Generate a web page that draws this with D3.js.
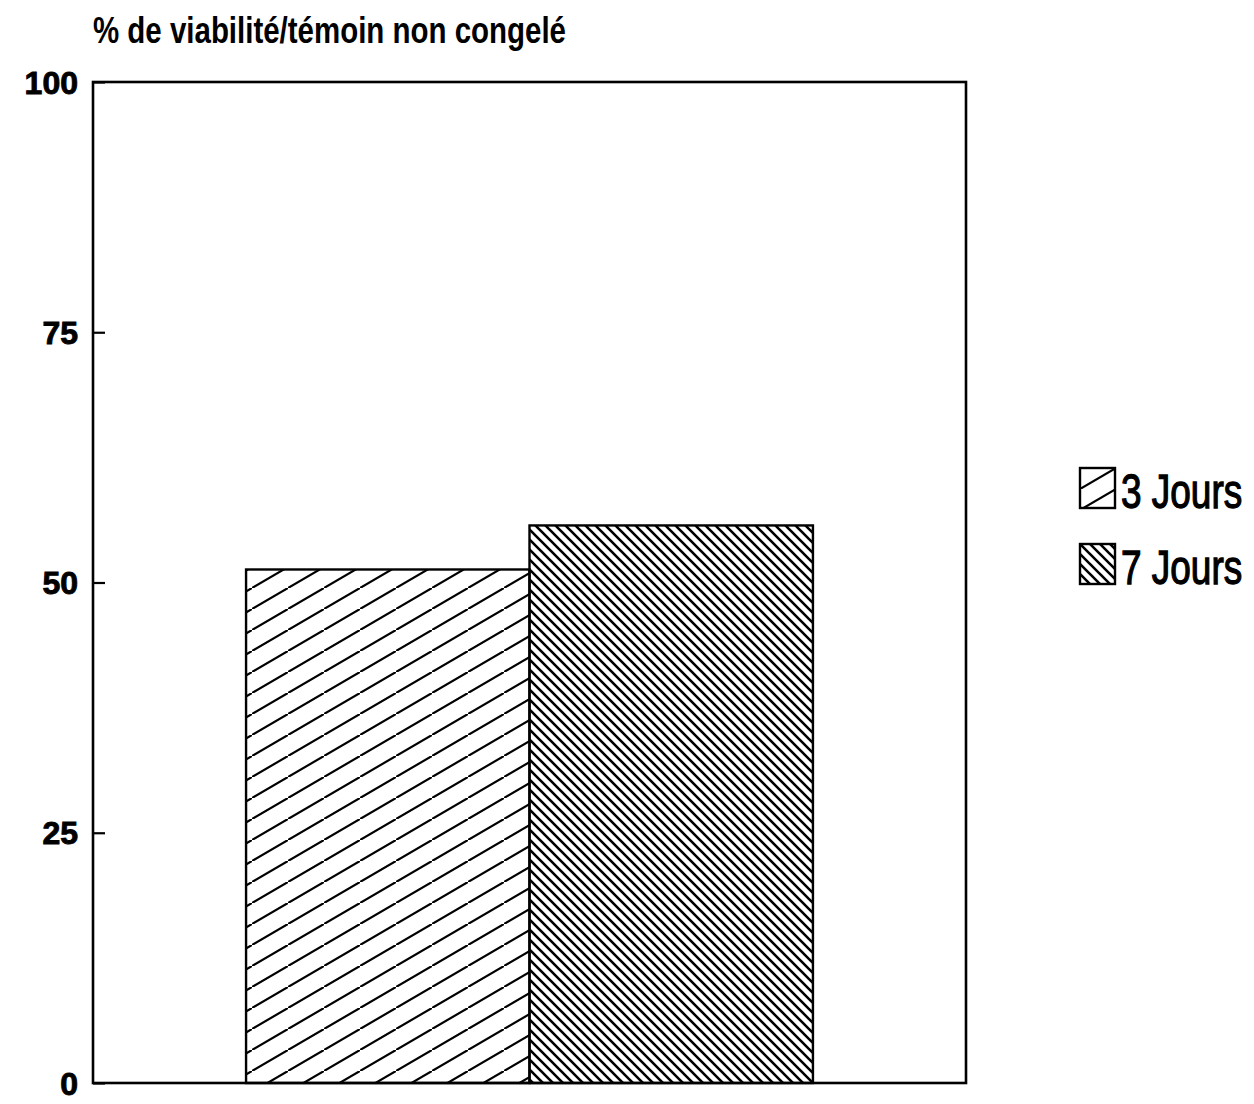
<!DOCTYPE html>
<html>
<head>
<meta charset="utf-8">
<script src="https://cdn.jsdelivr.net/npm/d3@7"></script>
<style>
  html, body { margin: 0; padding: 0; background: #fff; }
  svg { display: block; }
</style>
</head>
<body>
<svg id="chart" width="1254" height="1104"></svg>
<script>
// ---- data ----
const groups = [""];
const seriesNames = ["3 Jours", "7 Jours"];
const seriesValues = [51.3, 55.7];
const yTicks = [0, 25, 50, 75, 100];
const titleText = "% de viabilité/témoin non congelé";

// ---- layout ----
const svg = d3.select("#chart");
const plot = { left: 93, right: 966, top: 82, bottom: 1083 };

const y = d3.scaleLinear().domain([0, 100]).range([plot.bottom, plot.top]);
const x0 = d3.scaleBand().domain(groups).range([plot.left, plot.right])
  .paddingInner(0).paddingOuter(0.27);
const x1 = d3.scaleBand().domain(seriesNames).range([0, x0.bandwidth()]).padding(0);

// ---- patterns ----
const defs = svg.append("defs");
const p3 = defs.append("pattern").attr("id", "hatch3")
  .attr("patternUnits", "userSpaceOnUse").attr("width", 36).attr("height", 21);
p3.append("path")
  .attr("d", "M0,21 L36,0 M-36,42 L0,21 M36,0 L72,-21")
  .attr("stroke", "#000").attr("stroke-width", 2.2).attr("fill", "none");
const p7 = defs.append("pattern").attr("id", "hatch7")
  .attr("patternUnits", "userSpaceOnUse").attr("width", 10).attr("height", 10);
p7.append("path")
  .attr("d", "M0,0 L10,10 M-10,-10 L0,0 M10,10 L20,20 M-5,5 L5,15 M5,-5 L15,5")
  .attr("stroke", "#000").attr("stroke-width", 2.6).attr("fill", "none");
const fills = { "3 Jours": "url(#hatch3)", "7 Jours": "url(#hatch7)" };

// ---- bars ----
const data = seriesNames.map((s, i) => ({ group: groups[0], series: s, value: seriesValues[i] }));
svg.append("g").selectAll("rect").data(data).join("rect")
  .attr("x", d => x0(d.group) + x1(d.series))
  .attr("y", d => y(d.value))
  .attr("width", x1.bandwidth())
  .attr("height", d => y(0) - y(d.value))
  .attr("fill", d => fills[d.series])
  .attr("stroke", "#000").attr("stroke-width", 2.4);

// ---- frame ----
svg.append("rect")
  .attr("x", plot.left).attr("y", plot.top)
  .attr("width", plot.right - plot.left).attr("height", plot.bottom - plot.top)
  .attr("fill", "none").attr("stroke", "#000").attr("stroke-width", 2.6);

// ---- y axis ----
const yAxis = d3.axisRight(y).tickValues(yTicks).tickSize(12).tickFormat("");
const ag = svg.append("g").attr("transform", `translate(${plot.left},0)`).call(yAxis);
ag.select(".domain").remove();
ag.selectAll(".tick line").attr("stroke", "#000").attr("stroke-width", 2.2);

svg.append("g").selectAll("text").data(yTicks).join("text")
  .attr("x", 78)
  .attr("y", d => y(d))
  .attr("dy", "0.36em")
  .attr("text-anchor", "end")
  .attr("font-family", "'Liberation Sans', Arial, sans-serif")
  .attr("font-weight", "bold")
  .attr("font-size", 32)
  .attr("stroke", "#000").attr("stroke-width", 0.9)
  .attr("fill", "#000")
  .text(d => d);

// ---- title ----
svg.append("text")
  .attr("x", 93).attr("y", 43)
  .attr("font-family", "'Liberation Sans Narrow', 'Liberation Sans', Arial, sans-serif")
  .attr("font-weight", "bold")
  .attr("font-size", 36)
  .attr("textLength", 473)
  .attr("lengthAdjust", "spacingAndGlyphs")
  .attr("fill", "#000")
  .text(titleText);

// ---- legend ----
const legend = svg.append("g");
const legendRows = seriesNames.map((s, i) => ({ name: s, i }));
const ly = d3.scalePoint().domain(seriesNames).range([468, 544]);
const lg = legend.selectAll("g").data(legendRows).join("g")
  .attr("transform", d => `translate(1080,${ly(d.name)})`);
lg.append("rect")
  .attr("width", 35).attr("height", 40)
  .attr("fill", d => fills[d.name])
  .attr("stroke", "#000").attr("stroke-width", 2.4);
lg.append("text")
  .attr("transform", "translate(41,40) scale(0.77,1)")
  .attr("font-family", "'Liberation Sans', Arial, sans-serif")
  .attr("font-weight", "normal")
  .attr("font-size", 48)
  .attr("stroke", "#000").attr("stroke-width", 1.3)
  .attr("fill", "#000")
  .text(d => d.name);
</script>
</body>
</html>
